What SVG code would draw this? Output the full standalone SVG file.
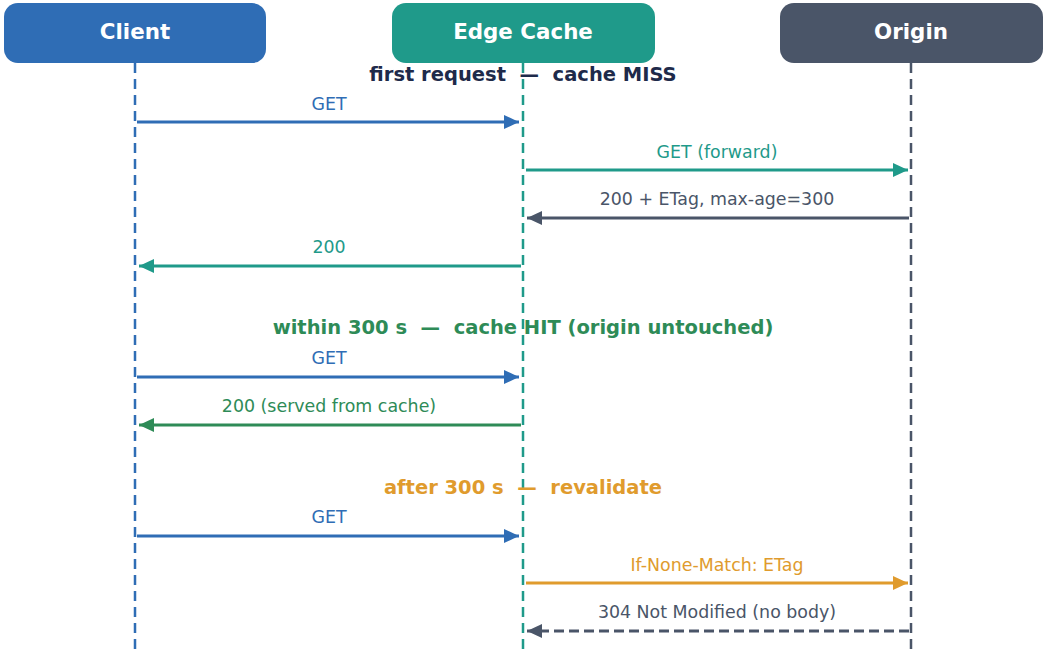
<svg xmlns="http://www.w3.org/2000/svg" width="1046" height="655" viewBox="0 0 1046 655">
  <style>
    .hdr { font-family: "DejaVu Sans", Verdana, sans-serif; font-weight: bold; font-size: 21.4px; fill: #ffffff; text-anchor: middle; }
    .sec { font-family: "DejaVu Sans", Verdana, sans-serif; font-weight: bold; font-size: 19.5px; text-anchor: middle; }
    .lbl { font-family: "DejaVu Sans", Verdana, sans-serif; font-size: 17.4px; text-anchor: middle; }
    .life { stroke-width: 2.5; stroke-dasharray: 10 6; fill: none; }
    .msg { stroke-width: 3; fill: none; }
  </style>
  <defs>
    <marker id="hBlue" markerUnits="userSpaceOnUse" markerWidth="16" markerHeight="14" refX="15" refY="7" orient="auto"><path d="M0,0 L15,7 L0,14 Z" fill="#2f6db5"/></marker>
    <marker id="hTeal" markerUnits="userSpaceOnUse" markerWidth="16" markerHeight="14" refX="15" refY="7" orient="auto"><path d="M0,0 L15,7 L0,14 Z" fill="#1f9a8a"/></marker>
    <marker id="hSlate" markerUnits="userSpaceOnUse" markerWidth="16" markerHeight="14" refX="15" refY="7" orient="auto"><path d="M0,0 L15,7 L0,14 Z" fill="#4a5568"/></marker>
    <marker id="hGreen" markerUnits="userSpaceOnUse" markerWidth="16" markerHeight="14" refX="15" refY="7" orient="auto"><path d="M0,0 L15,7 L0,14 Z" fill="#2e8b57"/></marker>
    <marker id="hOrange" markerUnits="userSpaceOnUse" markerWidth="16" markerHeight="14" refX="15" refY="7" orient="auto"><path d="M0,0 L15,7 L0,14 Z" fill="#e09b2d"/></marker>
  </defs>

  <rect width="1046" height="655" fill="#ffffff"/>

  <!-- lifelines -->
  <g id="lifelines">
    <line class="life" x1="135" y1="63" x2="135" y2="650" stroke="#2f6db5"/>
    <line class="life" x1="523" y1="63" x2="523" y2="650" stroke="#1f9a8a"/>
    <line class="life" x1="911" y1="63" x2="911" y2="650" stroke="#4a5568"/>
  </g>

  <!-- participants -->
  <g id="client">
    <rect x="4" y="3" width="262" height="60" rx="14" fill="#2f6db5"/>
    <text class="hdr" x="135" y="39">Client</text>
  </g>
  <g id="edge-cache">
    <rect x="392" y="3" width="263" height="60" rx="14" fill="#1f9a8a"/>
    <text class="hdr" x="523" y="39">Edge Cache</text>
  </g>
  <g id="origin">
    <rect x="780" y="3" width="263" height="60" rx="14" fill="#4a5568"/>
    <text class="hdr" x="911" y="39">Origin</text>
  </g>

  <!-- section titles -->
  <g id="sections">
    <text class="sec" x="523" y="81" fill="#1e2a4a" xml:space="preserve">first request  —  cache MISS</text>
    <text class="sec" x="523" y="334" fill="#2e8b57" xml:space="preserve">within 300 s  —  cache HIT (origin untouched)</text>
    <text class="sec" x="523" y="494" fill="#e09b2d" xml:space="preserve">after 300 s  —  revalidate</text>
  </g>

  <!-- messages -->
  <g id="connectors">
    <line class="msg" x1="137" y1="122" x2="519" y2="122" stroke="#2f6db5" marker-end="url(#hBlue)"/>
    <text class="lbl" x="329" y="110" fill="#2f6db5">GET</text>

    <line class="msg" x1="526" y1="170" x2="908" y2="170" stroke="#1f9a8a" marker-end="url(#hTeal)"/>
    <text class="lbl" x="717" y="158" fill="#1f9a8a">GET (forward)</text>

    <line class="msg" x1="909" y1="218" x2="527" y2="218" stroke="#4a5568" marker-end="url(#hSlate)"/>
    <text class="lbl" x="717" y="205" fill="#4a5568">200 + ETag, max-age=300</text>

    <line class="msg" x1="521" y1="266" x2="139" y2="266" stroke="#1f9a8a" marker-end="url(#hTeal)"/>
    <text class="lbl" x="329" y="253" fill="#1f9a8a">200</text>

    <line class="msg" x1="137" y1="377" x2="519" y2="377" stroke="#2f6db5" marker-end="url(#hBlue)"/>
    <text class="lbl" x="329" y="364" fill="#2f6db5">GET</text>

    <line class="msg" x1="521" y1="425" x2="139" y2="425" stroke="#2e8b57" marker-end="url(#hGreen)"/>
    <text class="lbl" x="329" y="412" fill="#2e8b57">200 (served from cache)</text>

    <line class="msg" x1="137" y1="536" x2="519" y2="536" stroke="#2f6db5" marker-end="url(#hBlue)"/>
    <text class="lbl" x="329" y="523" fill="#2f6db5">GET</text>

    <line class="msg" x1="526" y1="583" x2="908" y2="583" stroke="#e09b2d" marker-end="url(#hOrange)"/>
    <text class="lbl" x="717" y="571" fill="#e09b2d">If-None-Match: ETag</text>

    <line class="msg" x1="909" y1="631" x2="527" y2="631" stroke="#4a5568" stroke-dasharray="10 5" marker-end="url(#hSlate)"/>
    <text class="lbl" x="717" y="618" fill="#4a5568">304 Not Modified (no body)</text>
  </g>
</svg>
